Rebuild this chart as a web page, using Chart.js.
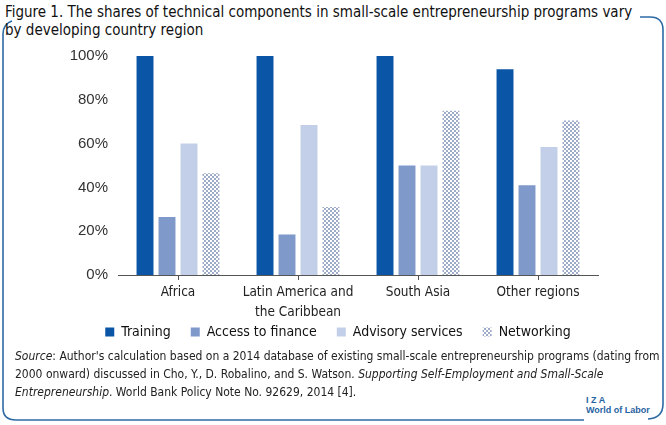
<!DOCTYPE html>
<html>
<head>
<meta charset="utf-8">
<script src="https://cdn.jsdelivr.net/npm/chart.js@4"></script>
<style>
  body { margin: 0; background: #fff; }
  #wrap { position: relative; width: 666px; height: 425px; overflow: hidden; font-family: "DejaVu Sans Condensed", Roboto, sans-serif; }
  #title { position: absolute; left: 5px; top: 3px; font-size: 15px; line-height: 18px; color: #111; white-space: nowrap; }
  #chartBox { position: absolute; left: 0; top: 40px; width: 666px; height: 327px; }
  #source { position: absolute; left: 15px; top: 347px; font-size: 12px; line-height: 18px; color: #222; white-space: nowrap; }
  #frame { position: absolute; left: 0; top: 0; }
  #logo { position: absolute; left: 582px; top: 395px; background: #fff; color: #1f63a3; font-family: "Liberation Sans", sans-serif; font-weight: bold; font-size: 9px; line-height: 10px; padding: 0 4px; }
</style>
</head>
<body>
<div id="wrap">
  <svg id="frame" width="666" height="425">
    <path d="M12 21 Q3 24 3 34 L3 408 Q3 420 16 420 L584 420" fill="none" stroke="#2e6aa4" stroke-width="1.6"/>
    <path d="M640 17 L650 17 Q663 17 663 30 L663 404 Q663 418 648 419" fill="none" stroke="#2e6aa4" stroke-width="1.6"/>
  </svg>
  <div id="title">Figure 1. The shares of technical components in small-scale entrepreneurship programs vary<br>by developing country region</div>
  <div id="chartBox"><canvas id="chart"></canvas></div>
  <div id="source"><i>Source</i>: Author's calculation based on a 2014 database of existing small-scale entrepreneurship programs (dating from<br>2000 onward) discussed in Cho, Y., D. Robalino, and S. Watson. <i>Supporting Self-Employment and Small-Scale</i><br><i>Entrepreneurship</i>. World Bank Policy Note No. 92629, 2014 [4].</div>
  <div id="logo">I Z A<br>World of Labor</div>
</div>
<script>
const regions = [['Africa'], ['Latin America and', 'the Caribbean'], ['South Asia'], ['Other regions']];
const training = [100, 100, 100, 94];
const accessToFinance = [26.5, 18.5, 50, 41];
const advisoryServices = [60, 68.5, 50, 58.5];
const networking = [46.5, 31, 75, 70.5];
const yTicks = [0, 20, 40, 60, 80, 100];

const narrow = '"DejaVu Sans Condensed", Roboto, sans-serif';

// checkered fill for the networking bars
function makePattern() {
  const c = document.createElement('canvas');
  c.width = 4; c.height = 4;
  const g = c.getContext('2d');
  g.fillStyle = '#ffffff';
  g.fillRect(0, 0, 4, 4);
  g.fillStyle = '#9daac8';
  g.fillRect(0, 0, 2, 2);
  g.fillRect(2, 2, 2, 2);
  return g.createPattern(c, 'repeat');
}
const dots = makePattern();

// the legend sits close under the two-line region labels
const liftLegend = {
  id: 'liftLegend',
  afterLayout(chart) {
    chart.legend.top -= 18;
    chart.legend.bottom -= 18;
    chart.legend.left += 39;
    chart.legend.right += 39;
  }
};

const ctx = document.getElementById('chart').getContext('2d');
new Chart(ctx, {
  type: 'bar',
  data: {
    labels: regions,
    datasets: [
      { label: 'Training', data: training, backgroundColor: '#0a55a6' },
      { label: 'Access to finance', data: accessToFinance, backgroundColor: '#7f99cb' },
      { label: 'Advisory services', data: advisoryServices, backgroundColor: '#c3cfe8' },
      { label: 'Networking', data: networking, backgroundColor: dots }
    ]
  },
  plugins: [liftLegend],
  options: {
    responsive: true,
    maintainAspectRatio: false,
    animation: false,
    datasets: { bar: { categoryPercentage: 0.733, barPercentage: 0.77 } },
    layout: { padding: { top: 16, right: 68, left: 0, bottom: 0 } },
    plugins: {
      tooltip: { enabled: false },
      legend: {
        position: 'bottom',
        labels: {
          boxWidth: 9,
          boxHeight: 9,
          padding: 20,
          color: '#111',
          font: { family: narrow, size: 14 }
        }
      }
    },
    scales: {
      x: {
        grid: { display: true, drawOnChartArea: false, offset: false, tickLength: 5, color: '#555' },
        border: { color: '#555', width: 1 },
        ticks: {
          color: '#222',
          padding: 3,
          maxRotation: 0,
          autoSkip: false,
          font: { family: narrow, size: 13.5, lineHeight: 1.45 }
        },
        afterFit: s => { s.height = 48; }
      },
      y: {
        min: 0,
        max: 100,
        afterBuildTicks: s => { s.ticks = yTicks.map(v => ({ value: v })); },
        grid: { display: false },
        border: { display: false },
        ticks: {
          color: '#333',
          padding: 2,
          font: { family: '"Liberation Sans", sans-serif', size: 15 },
          callback: v => v + '%'
        },
        afterFit: s => { s.width = 118; }
      }
    }
  }
});
</script>
</body>
</html>
